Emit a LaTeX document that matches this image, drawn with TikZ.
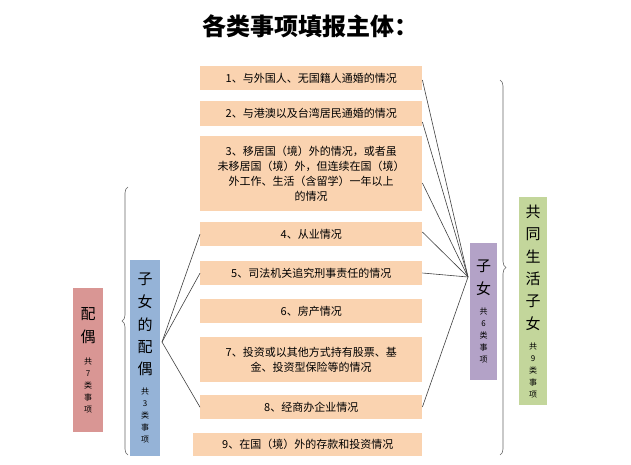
\documentclass[tikz,border=0pt]{standalone}
\usepackage{fontspec}
\setmainfont{Noto Sans CJK SC}
\usetikzlibrary{decorations.pathreplacing}
\definecolor{itemc}{HTML}{FAD3B0}
\definecolor{redc}{HTML}{D99694}
\definecolor{bluec}{HTML}{95B3D7}
\definecolor{purc}{HTML}{B3A2C7}
\definecolor{grnc}{HTML}{C3D69B}
\newcommand{\bg}[1]{{\fontsize{15}{20}\selectfont #1}}
\begin{document}
\begin{tikzpicture}[x=1pt,y=-1pt,
 item/.style={fill=itemc,minimum width=222pt,inner sep=1pt,align=center,font=\fontsize{11}{15}\selectfont,anchor=north west},
 vbox/.style={align=center,inner sep=2pt,anchor=north west,font=\fontsize{8}{12}\selectfont},
 link/.style={draw=black!75,line width=0.6pt},
 brace/.style={draw=black!60,line width=0.6pt,decorate,decoration={brace,amplitude=6pt}}]
\useasboundingbox (0,0) rectangle (631,465);
\node (title) at (310,26) {\fontsize{24}{28}\selectfont\bfseries 各类事项填报主体：};
\node[item,minimum height=24pt] (b1) at (200,66) {1、与外国人、无国籍人通婚的情况};
\node[item,minimum height=25pt] (b2) at (200,101) {2、与港澳以及台湾居民通婚的情况};
\node[item,minimum height=75pt] (b3) at (200,136) {3、移居国（境）外的情况，或者虽\\未移居国（境）外，但连续在国（境）\\外工作、生活（含留学）一年以上\\的情况};
\node[item,minimum height=24pt] (b4) at (200,222) {4、从业情况};
\node[item,minimum height=24pt] (b5) at (200,261) {5、司法机关追究刑事责任的情况};
\node[item,minimum height=24pt] (b6) at (200,299) {6、房产情况};
\node[item,minimum height=45pt] (b7) at (200,337) {7、投资或以其他方式持有股票、基\\金、投资型保险等的情况};
\node[item,minimum height=24pt] (b8) at (200,395) {8、经商办企业情况};
\node[item,minimum height=23pt,minimum width=229pt] (b9) at (193,433) {9、在国（境）外的存款和投资情况};
\node[vbox,fill=redc,minimum width=30pt,minimum height=144pt] (pei) at (73,288) {\bg{配}\\[8pt]\bg{偶}\\[10pt]共\\7\\类\\事\\项};
\node[vbox,fill=bluec,minimum width=30pt,minimum height=196pt] (zp) at (130,260) {\bg{子}\\[8pt]\bg{女}\\[8pt]\bg{的}\\[8pt]\bg{配}\\[8pt]\bg{偶}\\[8pt]共\\3\\类\\事\\项};
\node[vbox,fill=purc,minimum width=27pt,minimum height=137pt] (zn) at (470,243) {\bg{子}\\[8pt]\bg{女}\\[8pt]共\\6\\类\\事\\项};
\node[vbox,fill=grnc,minimum width=28pt,minimum height=208pt] (gt) at (519,197) {\bg{共}\\[8pt]\bg{同}\\[8pt]\bg{生}\\[8pt]\bg{活}\\[8pt]\bg{子}\\[8pt]\bg{女}\\[8pt]共\\9\\类\\事\\项};
\coordinate (zpt) at (162,342);
\coordinate (znt) at (468,277);
\foreach \b in {b4,b5,b8} \draw[link] (zpt) -- (\b.west);
\foreach \b/\y in {b1/80,b2/122,b3/183,b4/232,b5/273,b8/407} \draw[link] (znt) -- (\b.east |- 0,\y);
\draw[brace] (128,455) -- (128,187);
\draw[brace] (500,80) -- (500,455);
\end{tikzpicture}
\end{document}
